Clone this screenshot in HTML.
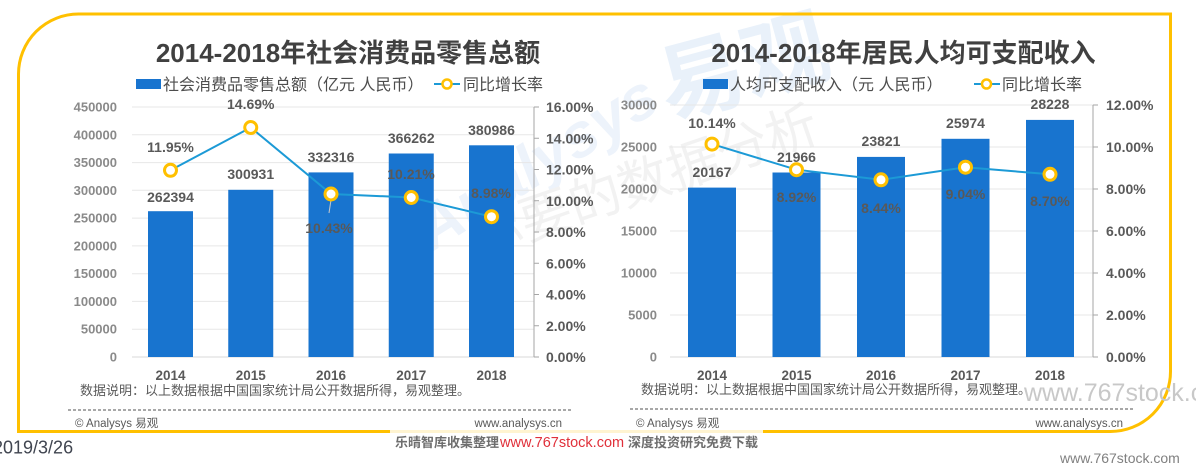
<!DOCTYPE html>
<html>
<head>
<meta charset="utf-8">
<style>
  html,body{margin:0;padding:0;background:#fff;}
  body{width:1196px;height:472px;overflow:hidden;}
  svg{display:block;}
  text{font-family:"Liberation Sans","Noto Sans CJK SC",sans-serif;}
</style>
</head>
<body>
<svg width="1196" height="472" viewBox="0 0 1196 472" xmlns="http://www.w3.org/2000/svg">
  <rect x="0" y="0" width="1196" height="472" fill="#ffffff"/>

  <!-- faint background watermarks -->
  <g>
    <text x="0" y="0" transform="translate(432,252) rotate(-32)" font-size="62" font-weight="bold" fill="#edf3fb" font-style="italic">Analysys</text>
    <text x="0" y="0" transform="translate(668,118) rotate(-15)" font-size="86" font-weight="bold" fill="#e9f1fa">易观</text>
    <text x="0" y="0" transform="translate(478,258) rotate(-19)" font-size="52" fill="#f2f2f2">你要的数据分析</text>
  </g>

  <!-- orange frame -->
  <path d="M18.5,74 A60,60 0 0 1 78.5,14 L1170.5,14 L1170.5,371.5 A60,60 0 0 1 1110.5,431.5 L18.5,431.5 Z" fill="none" stroke="#ffc000" stroke-width="3"/>
  <!-- banner overlay on bottom line -->
  <rect x="390" y="429" width="373" height="26" fill="#ffffff" opacity="0.82"/>

  <!-- ================= LEFT CHART ================= -->
  <text x="348" y="62" text-anchor="middle" font-size="26" font-weight="bold" fill="#404040">2014-2018年社会消费品零售总额</text>

  <!-- legend -->
  <rect x="136" y="79" width="25" height="10" fill="#1874cf"/>
  <text x="163" y="90" font-size="16" fill="#4d4d4d">社会消费品零售总额（亿元 人民币）</text>
  <line x1="434" y1="84" x2="460" y2="84" stroke="#1c9ad6" stroke-width="2"/>
  <circle cx="447" cy="84" r="4.5" fill="#fff" stroke="#ffc000" stroke-width="2.5"/>
  <text x="463" y="90" font-size="16" fill="#4d4d4d">同比增长率</text>

  <!-- gridlines -->
  <g stroke="#e7e7e7" stroke-width="1">
    <line x1="132" y1="107" x2="534" y2="107"/>
    <line x1="132" y1="134.8" x2="534" y2="134.8"/>
    <line x1="132" y1="162.6" x2="534" y2="162.6"/>
    <line x1="132" y1="190.3" x2="534" y2="190.3"/>
    <line x1="132" y1="218.1" x2="534" y2="218.1"/>
    <line x1="132" y1="245.9" x2="534" y2="245.9"/>
    <line x1="132" y1="273.7" x2="534" y2="273.7"/>
    <line x1="132" y1="301.4" x2="534" y2="301.4"/>
    <line x1="132" y1="329.2" x2="534" y2="329.2"/>
  </g>
  <line x1="132" y1="357" x2="534" y2="357" stroke="#d9d9d9" stroke-width="1"/>

  <!-- left axis labels -->
  <g font-size="13" font-weight="bold" fill="#8a8a8a" text-anchor="end">
    <text x="117" y="111.5">450000</text>
    <text x="117" y="139.3">400000</text>
    <text x="117" y="167.1">350000</text>
    <text x="117" y="194.8">300000</text>
    <text x="117" y="222.6">250000</text>
    <text x="117" y="250.4">200000</text>
    <text x="117" y="278.2">150000</text>
    <text x="117" y="305.9">100000</text>
    <text x="117" y="333.7">50000</text>
    <text x="117" y="361.5">0</text>
  </g>

  <!-- right axis -->
  <g stroke="#a6a6a6" stroke-width="1">
    <line x1="534" y1="107" x2="534" y2="357"/>
    <line x1="534" y1="107" x2="539" y2="107"/>
    <line x1="534" y1="138.25" x2="539" y2="138.25"/>
    <line x1="534" y1="169.5" x2="539" y2="169.5"/>
    <line x1="534" y1="200.75" x2="539" y2="200.75"/>
    <line x1="534" y1="232" x2="539" y2="232"/>
    <line x1="534" y1="263.25" x2="539" y2="263.25"/>
    <line x1="534" y1="294.5" x2="539" y2="294.5"/>
    <line x1="534" y1="325.75" x2="539" y2="325.75"/>
    <line x1="534" y1="357" x2="539" y2="357"/>
  </g>
  <g font-size="14" font-weight="bold" fill="#595959">
    <text x="546" y="112">16.00%</text>
    <text x="546" y="143.25">14.00%</text>
    <text x="546" y="174.5">12.00%</text>
    <text x="546" y="205.75">10.00%</text>
    <text x="546" y="237">8.00%</text>
    <text x="546" y="268.25">6.00%</text>
    <text x="546" y="299.5">4.00%</text>
    <text x="546" y="330.75">2.00%</text>
    <text x="546" y="362">0.00%</text>
  </g>

  <!-- bars -->
  <g fill="#1874cf">
    <rect x="148" y="211.2" width="45" height="145.8"/>
    <rect x="228.25" y="189.8" width="45" height="167.2"/>
    <rect x="308.5" y="172.4" width="45" height="184.6"/>
    <rect x="388.75" y="153.5" width="45" height="203.5"/>
    <rect x="469" y="145.3" width="45" height="211.7"/>
  </g>

  <!-- bar value labels -->
  <g font-size="14" font-weight="bold" fill="#595959" text-anchor="middle">
    <text x="170.5" y="202">262394</text>
    <text x="250.75" y="179">300931</text>
    <text x="331" y="162">332316</text>
    <text x="411.25" y="143">366262</text>
    <text x="491.5" y="135">380986</text>
  </g>

  <!-- line -->
  <polyline points="170.5,170.3 250.75,127.5 331,194 411.25,197.5 491.5,216.7" fill="none" stroke="#1c9ad6" stroke-width="2"/>
  <line x1="331" y1="200" x2="329" y2="213" stroke="#c8c8c8" stroke-width="1"/>
  <g fill="#fff" stroke="#ffc000" stroke-width="3">
    <circle cx="170.5" cy="170.3" r="6"/>
    <circle cx="250.75" cy="127.5" r="6"/>
    <circle cx="331" cy="194" r="6"/>
    <circle cx="411.25" cy="197.5" r="6"/>
    <circle cx="491.5" cy="216.7" r="6"/>
  </g>
  <g font-size="14" font-weight="bold" fill="#595959" text-anchor="middle">
    <text x="170.5" y="152">11.95%</text>
    <text x="250.75" y="109">14.69%</text>
    <text x="329" y="233">10.43%</text>
    <text x="411" y="179">10.21%</text>
    <text x="491" y="198">8.98%</text>
  </g>

  <!-- x labels -->
  <g font-size="13.5" font-weight="bold" fill="#595959" text-anchor="middle">
    <text x="170.5" y="380">2014</text>
    <text x="250.75" y="380">2015</text>
    <text x="331" y="380">2016</text>
    <text x="411.25" y="380">2017</text>
    <text x="491.5" y="380">2018</text>
  </g>

  <text x="80" y="395" font-size="13" fill="#595959">数据说明：以上数据根据中国国家统计局公开数据所得，易观整理。</text>
  <line x1="68" y1="410" x2="572" y2="410" stroke="#505050" stroke-width="1" stroke-dasharray="3,2"/>
  <text x="75" y="427" font-size="11.5" fill="#595959">© Analysys 易观</text>
  <text x="562" y="427" font-size="11.5" fill="#595959" text-anchor="end">www.analysys.cn</text>

  <!-- ================= RIGHT CHART ================= -->
  <text x="903.5" y="62" text-anchor="middle" font-size="26" font-weight="bold" fill="#404040">2014-2018年居民人均可支配收入</text>

  <rect x="703" y="79" width="25" height="10" fill="#1874cf"/>
  <text x="730" y="90" font-size="16" fill="#4d4d4d">人均可支配收入（元 人民币）</text>
  <line x1="974" y1="84" x2="1000" y2="84" stroke="#1c9ad6" stroke-width="2"/>
  <circle cx="986.5" cy="84" r="4.5" fill="#fff" stroke="#ffc000" stroke-width="2.5"/>
  <text x="1002" y="90" font-size="16" fill="#4d4d4d">同比增长率</text>

  <g stroke="#e7e7e7" stroke-width="1">
    <line x1="670" y1="105" x2="1093" y2="105"/>
    <line x1="670" y1="147" x2="1093" y2="147"/>
    <line x1="670" y1="189" x2="1093" y2="189"/>
    <line x1="670" y1="231" x2="1093" y2="231"/>
    <line x1="670" y1="273" x2="1093" y2="273"/>
    <line x1="670" y1="315" x2="1093" y2="315"/>
  </g>
  <line x1="670" y1="357" x2="1093" y2="357" stroke="#d9d9d9" stroke-width="1"/>

  <g font-size="13" font-weight="bold" fill="#8a8a8a" text-anchor="end">
    <text x="657" y="109.5">30000</text>
    <text x="657" y="151.5">25000</text>
    <text x="657" y="193.5">20000</text>
    <text x="657" y="235.5">15000</text>
    <text x="657" y="277.5">10000</text>
    <text x="657" y="319.5">5000</text>
    <text x="657" y="361.5">0</text>
  </g>

  <g stroke="#a6a6a6" stroke-width="1">
    <line x1="1093" y1="105" x2="1093" y2="357"/>
    <line x1="1093" y1="105" x2="1098" y2="105"/>
    <line x1="1093" y1="147" x2="1098" y2="147"/>
    <line x1="1093" y1="189" x2="1098" y2="189"/>
    <line x1="1093" y1="231" x2="1098" y2="231"/>
    <line x1="1093" y1="273" x2="1098" y2="273"/>
    <line x1="1093" y1="315" x2="1098" y2="315"/>
    <line x1="1093" y1="357" x2="1098" y2="357"/>
  </g>
  <g font-size="14" font-weight="bold" fill="#595959">
    <text x="1106" y="110">12.00%</text>
    <text x="1106" y="152">10.00%</text>
    <text x="1106" y="194">8.00%</text>
    <text x="1106" y="236">6.00%</text>
    <text x="1106" y="278">4.00%</text>
    <text x="1106" y="320">2.00%</text>
    <text x="1106" y="362">0.00%</text>
  </g>

  <g fill="#1874cf">
    <rect x="688" y="187.6" width="48" height="169.4"/>
    <rect x="772.5" y="172.5" width="48" height="184.5"/>
    <rect x="857" y="156.9" width="48" height="200.1"/>
    <rect x="941.5" y="138.8" width="48" height="218.2"/>
    <rect x="1026" y="119.9" width="48" height="237.1"/>
  </g>

  <g font-size="14" font-weight="bold" fill="#595959" text-anchor="middle">
    <text x="712" y="177">20167</text>
    <text x="796.5" y="162">21966</text>
    <text x="881" y="146">23821</text>
    <text x="965.5" y="128">25974</text>
    <text x="1050" y="109">28228</text>
  </g>

  <polyline points="712,144.1 796.5,169.7 881,179.8 965.5,167.2 1050,174.3" fill="none" stroke="#1c9ad6" stroke-width="2"/>
  <g fill="#fff" stroke="#ffc000" stroke-width="3">
    <circle cx="712" cy="144.1" r="6"/>
    <circle cx="796.5" cy="169.7" r="6"/>
    <circle cx="881" cy="179.8" r="6"/>
    <circle cx="965.5" cy="167.2" r="6"/>
    <circle cx="1050" cy="174.3" r="6"/>
  </g>
  <g font-size="14" font-weight="bold" fill="#595959" text-anchor="middle">
    <text x="712" y="128">10.14%</text>
    <text x="796.5" y="202">8.92%</text>
    <text x="881" y="213">8.44%</text>
    <text x="965.5" y="199">9.04%</text>
    <text x="1050" y="206">8.70%</text>
  </g>

  <g font-size="13.5" font-weight="bold" fill="#595959" text-anchor="middle">
    <text x="712" y="380">2014</text>
    <text x="796.5" y="380">2015</text>
    <text x="881" y="380">2016</text>
    <text x="965.5" y="380">2017</text>
    <text x="1050" y="380">2018</text>
  </g>

  <text x="641" y="394" font-size="13" fill="#595959">数据说明：以上数据根据中国国家统计局公开数据所得，易观整理。</text>
  <line x1="630" y1="409" x2="1133" y2="409" stroke="#505050" stroke-width="1" stroke-dasharray="3,2"/>
  <text x="636" y="427" font-size="11.5" fill="#595959">© Analysys 易观</text>
  <text x="1123" y="427" font-size="11.5" fill="#595959" text-anchor="end">www.analysys.cn</text>

  <!-- big watermark right -->
  <text x="1024" y="401" font-size="25" fill="#c8c8c8">www.767stock.com</text>

  <!-- date -->
  <text x="-7" y="453.5" font-size="18" fill="#404550">2019/3/26</text>

  <!-- banner -->
  <text x="395" y="447" font-size="13" font-weight="bold" fill="#6e6e6e">乐晴智库收集整理</text>
  <text x="500" y="447" font-size="14.5" fill="#e0303a">www.767stock.com</text>
  <text x="628" y="447" font-size="13" font-weight="bold" fill="#6e6e6e">深度投资研究免费下载</text>

  <!-- bottom-right watermark -->
  <text x="1060" y="463" font-size="14" fill="#808080">www.767stock.com</text>
</svg>
</body>
</html>
